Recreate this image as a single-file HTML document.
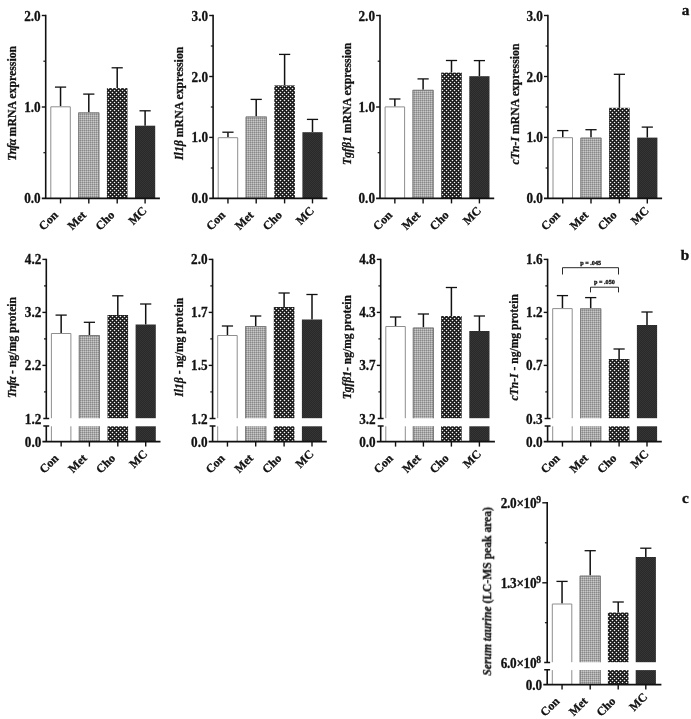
<!DOCTYPE html>
<html><head><meta charset="utf-8"><title>Figure</title>
<style>
html,body{margin:0;padding:0;background:#fff;}
body{width:691px;height:719px;overflow:hidden;font-family:"Liberation Serif",serif;}
svg{display:block;will-change:transform;}
</style></head><body>
<svg width="691" height="719" viewBox="0 0 691 719">
<defs>
<pattern id="pMet" width="2" height="2" patternUnits="userSpaceOnUse">
<rect width="2" height="2" fill="#a9a9a9"/><rect width="1" height="1" fill="#888888"/><rect x="1" y="1" width="1" height="1" fill="#c8c8c8"/>
</pattern>
<pattern id="pCho" width="4" height="4" patternUnits="userSpaceOnUse">
<rect width="4" height="4" fill="#141414"/><circle cx="0.5" cy="0.5" r="0.8" fill="#f4f4f4"/><circle cx="4.5" cy="0.5" r="0.8" fill="#f4f4f4"/><circle cx="0.5" cy="4.5" r="0.8" fill="#f4f4f4"/><circle cx="4.5" cy="4.5" r="0.8" fill="#f4f4f4"/><circle cx="2.5" cy="2.5" r="0.8" fill="#f4f4f4"/>
</pattern>
<pattern id="pMC" width="2" height="2" patternUnits="userSpaceOnUse">
<rect width="2" height="2" fill="#292929"/><rect width="1" height="1" fill="#353535"/><rect x="1" y="1" width="1" height="1" fill="#353535"/>
</pattern>
<filter id="soft" x="0" y="0" width="691" height="719" filterUnits="userSpaceOnUse" color-interpolation-filters="sRGB"><feGaussianBlur stdDeviation="0.38"/></filter>
</defs>
<rect width="691" height="719" fill="#fff"/>
<g filter="url(#soft)">

<path d="M45.7 14.75V198.4" stroke="#111111" stroke-width="1.6" fill="none"/>
<path d="M60.55 106.3V87.1" stroke="#111111" stroke-width="1.5" fill="none"/><path d="M54.95 87.1H66.15" stroke="#111111" stroke-width="1.3" fill="none"/>
<path d="M50.80 198.40V106.80H70.30V198.40" fill="none" stroke="#8e8e8e" stroke-width="1"/>
<path d="M88.80 112.4V94.1" stroke="#111111" stroke-width="1.5" fill="none"/><path d="M83.20 94.1H94.40" stroke="#111111" stroke-width="1.3" fill="none"/>
<rect x="78.20" y="112.40" width="21.20" height="86.00" fill="url(#pMet)"/>
<path d="M78.70 198.40V112.90H98.90V198.40" fill="none" stroke="#7c7c7c" stroke-width="1"/>
<path d="M117.20 88.1V67.8" stroke="#111111" stroke-width="1.5" fill="none"/><path d="M111.60 67.8H122.80" stroke="#111111" stroke-width="1.3" fill="none"/>
<rect x="106.90" y="88.10" width="20.60" height="110.30" fill="url(#pCho)"/>
<path d="M145.10 125.7V110.8" stroke="#111111" stroke-width="1.5" fill="none"/><path d="M139.50 110.8H150.70" stroke="#111111" stroke-width="1.3" fill="none"/>
<rect x="135.00" y="125.70" width="20.20" height="72.70" fill="url(#pMC)"/>
<path d="M41.800000000000004 198.4H159.9" stroke="#111111" stroke-width="1.7" fill="none"/>
<path d="M60.55 198.4V203.4" stroke="#111111" stroke-width="1.4" fill="none"/>
<text x="58.65" y="215.80" font-family="Liberation Serif, serif" font-weight="bold" stroke="#111" stroke-width="0.28" font-size="12" fill="#111111" text-anchor="end" transform="rotate(-45 58.65 215.80)">Con</text>
<path d="M88.80 198.4V203.4" stroke="#111111" stroke-width="1.4" fill="none"/>
<text x="86.90" y="215.80" font-family="Liberation Serif, serif" font-weight="bold" stroke="#111" stroke-width="0.28" font-size="12" fill="#111111" text-anchor="end" transform="rotate(-45 86.90 215.80)">Met</text>
<path d="M117.20 198.4V203.4" stroke="#111111" stroke-width="1.4" fill="none"/>
<text x="115.30" y="215.80" font-family="Liberation Serif, serif" font-weight="bold" stroke="#111" stroke-width="0.28" font-size="12" fill="#111111" text-anchor="end" transform="rotate(-45 115.30 215.80)">Cho</text>
<path d="M145.10 198.4V203.4" stroke="#111111" stroke-width="1.4" fill="none"/>
<text x="147.50" y="211.40" font-family="Liberation Serif, serif" font-weight="bold" stroke="#111" stroke-width="0.28" font-size="12" fill="#111111" text-anchor="end" transform="rotate(-45 147.50 211.40)">MC</text>
<path d="M41.80 15.5H45.7" stroke="#111111" stroke-width="1.4" fill="none"/>
<text transform="translate(40.70 20.55) scale(1 1.06)" font-family="Liberation Serif, serif" font-weight="bold" stroke="#111" stroke-width="0.28" font-size="13.2" fill="#111111" text-anchor="end">2.0</text>
<path d="M41.80 107H45.7" stroke="#111111" stroke-width="1.4" fill="none"/>
<text transform="translate(40.70 112.05) scale(1 1.06)" font-family="Liberation Serif, serif" font-weight="bold" stroke="#111" stroke-width="0.28" font-size="13.2" fill="#111111" text-anchor="end">1.0</text>
<text transform="translate(40.70 203.45) scale(1 1.06)" font-family="Liberation Serif, serif" font-weight="bold" stroke="#111" stroke-width="0.28" font-size="13.2" fill="#111111" text-anchor="end">0.0</text>
<path d="M43.400000000000006 61.2H45.7" stroke="#111111" stroke-width="1.2" fill="none"/>
<path d="M43.400000000000006 152.7H45.7" stroke="#111111" stroke-width="1.2" fill="none"/>
<text x="15.900000000000002" y="103.3" font-family="Liberation Serif, serif" font-weight="bold" stroke="#111" stroke-width="0.28" font-size="11.8" fill="#111111" text-anchor="middle" transform="rotate(-90 15.900000000000002 103.3)"><tspan font-style="italic" letter-spacing="-0.7">Tnfα</tspan> mRNA expression</text>
<path d="M213.1 14.75V198.4" stroke="#111111" stroke-width="1.6" fill="none"/>
<path d="M227.95 137.2V132.2" stroke="#111111" stroke-width="1.5" fill="none"/><path d="M222.35 132.2H233.55" stroke="#111111" stroke-width="1.3" fill="none"/>
<path d="M218.20 198.40V137.70H237.70V198.40" fill="none" stroke="#8e8e8e" stroke-width="1"/>
<path d="M256.20 116.5V99.4" stroke="#111111" stroke-width="1.5" fill="none"/><path d="M250.60 99.4H261.80" stroke="#111111" stroke-width="1.3" fill="none"/>
<rect x="245.60" y="116.50" width="21.20" height="81.90" fill="url(#pMet)"/>
<path d="M246.10 198.40V117.00H266.30V198.40" fill="none" stroke="#7c7c7c" stroke-width="1"/>
<path d="M284.60 85.4V54.4" stroke="#111111" stroke-width="1.5" fill="none"/><path d="M279.00 54.4H290.20" stroke="#111111" stroke-width="1.3" fill="none"/>
<rect x="274.30" y="85.40" width="20.60" height="113.00" fill="url(#pCho)"/>
<path d="M312.50 132.2V119.4" stroke="#111111" stroke-width="1.5" fill="none"/><path d="M306.90 119.4H318.10" stroke="#111111" stroke-width="1.3" fill="none"/>
<rect x="302.40" y="132.20" width="20.20" height="66.20" fill="url(#pMC)"/>
<path d="M209.2 198.4H327.3" stroke="#111111" stroke-width="1.7" fill="none"/>
<path d="M227.95 198.4V203.4" stroke="#111111" stroke-width="1.4" fill="none"/>
<text x="226.05" y="215.80" font-family="Liberation Serif, serif" font-weight="bold" stroke="#111" stroke-width="0.28" font-size="12" fill="#111111" text-anchor="end" transform="rotate(-45 226.05 215.80)">Con</text>
<path d="M256.20 198.4V203.4" stroke="#111111" stroke-width="1.4" fill="none"/>
<text x="254.30" y="215.80" font-family="Liberation Serif, serif" font-weight="bold" stroke="#111" stroke-width="0.28" font-size="12" fill="#111111" text-anchor="end" transform="rotate(-45 254.30 215.80)">Met</text>
<path d="M284.60 198.4V203.4" stroke="#111111" stroke-width="1.4" fill="none"/>
<text x="282.70" y="215.80" font-family="Liberation Serif, serif" font-weight="bold" stroke="#111" stroke-width="0.28" font-size="12" fill="#111111" text-anchor="end" transform="rotate(-45 282.70 215.80)">Cho</text>
<path d="M312.50 198.4V203.4" stroke="#111111" stroke-width="1.4" fill="none"/>
<text x="314.90" y="211.40" font-family="Liberation Serif, serif" font-weight="bold" stroke="#111" stroke-width="0.28" font-size="12" fill="#111111" text-anchor="end" transform="rotate(-45 314.90 211.40)">MC</text>
<path d="M209.20 15.5H213.1" stroke="#111111" stroke-width="1.4" fill="none"/>
<text transform="translate(208.10 20.55) scale(1 1.06)" font-family="Liberation Serif, serif" font-weight="bold" stroke="#111" stroke-width="0.28" font-size="13.2" fill="#111111" text-anchor="end">3.0</text>
<path d="M209.20 76.5H213.1" stroke="#111111" stroke-width="1.4" fill="none"/>
<text transform="translate(208.10 81.55) scale(1 1.06)" font-family="Liberation Serif, serif" font-weight="bold" stroke="#111" stroke-width="0.28" font-size="13.2" fill="#111111" text-anchor="end">2.0</text>
<path d="M209.20 137.4H213.1" stroke="#111111" stroke-width="1.4" fill="none"/>
<text transform="translate(208.10 142.45) scale(1 1.06)" font-family="Liberation Serif, serif" font-weight="bold" stroke="#111" stroke-width="0.28" font-size="13.2" fill="#111111" text-anchor="end">1.0</text>
<text transform="translate(208.10 203.45) scale(1 1.06)" font-family="Liberation Serif, serif" font-weight="bold" stroke="#111" stroke-width="0.28" font-size="13.2" fill="#111111" text-anchor="end">0.0</text>
<path d="M210.79999999999998 46H213.1" stroke="#111111" stroke-width="1.2" fill="none"/>
<path d="M210.79999999999998 107H213.1" stroke="#111111" stroke-width="1.2" fill="none"/>
<path d="M210.79999999999998 168H213.1" stroke="#111111" stroke-width="1.2" fill="none"/>
<text x="183.29999999999998" y="103.3" font-family="Liberation Serif, serif" font-weight="bold" stroke="#111" stroke-width="0.28" font-size="11.8" fill="#111111" text-anchor="middle" transform="rotate(-90 183.29999999999998 103.3)"><tspan font-style="italic">Il1β</tspan> mRNA expression</text>
<path d="M380.0 14.75V198.4" stroke="#111111" stroke-width="1.6" fill="none"/>
<path d="M394.85 106.4V99" stroke="#111111" stroke-width="1.5" fill="none"/><path d="M389.25 99H400.45" stroke="#111111" stroke-width="1.3" fill="none"/>
<path d="M385.10 198.40V106.90H404.60V198.40" fill="none" stroke="#8e8e8e" stroke-width="1"/>
<path d="M423.10 89.8V78.9" stroke="#111111" stroke-width="1.5" fill="none"/><path d="M417.50 78.9H428.70" stroke="#111111" stroke-width="1.3" fill="none"/>
<rect x="412.50" y="89.80" width="21.20" height="108.60" fill="url(#pMet)"/>
<path d="M413.00 198.40V90.30H433.20V198.40" fill="none" stroke="#7c7c7c" stroke-width="1"/>
<path d="M451.50 72.6V60.5" stroke="#111111" stroke-width="1.5" fill="none"/><path d="M445.90 60.5H457.10" stroke="#111111" stroke-width="1.3" fill="none"/>
<rect x="441.20" y="72.60" width="20.60" height="125.80" fill="url(#pCho)"/>
<path d="M479.40 76.2V60.6" stroke="#111111" stroke-width="1.5" fill="none"/><path d="M473.80 60.6H485.00" stroke="#111111" stroke-width="1.3" fill="none"/>
<rect x="469.30" y="76.20" width="20.20" height="122.20" fill="url(#pMC)"/>
<path d="M376.1 198.4H494.2" stroke="#111111" stroke-width="1.7" fill="none"/>
<path d="M394.85 198.4V203.4" stroke="#111111" stroke-width="1.4" fill="none"/>
<text x="392.95" y="215.80" font-family="Liberation Serif, serif" font-weight="bold" stroke="#111" stroke-width="0.28" font-size="12" fill="#111111" text-anchor="end" transform="rotate(-45 392.95 215.80)">Con</text>
<path d="M423.10 198.4V203.4" stroke="#111111" stroke-width="1.4" fill="none"/>
<text x="421.20" y="215.80" font-family="Liberation Serif, serif" font-weight="bold" stroke="#111" stroke-width="0.28" font-size="12" fill="#111111" text-anchor="end" transform="rotate(-45 421.20 215.80)">Met</text>
<path d="M451.50 198.4V203.4" stroke="#111111" stroke-width="1.4" fill="none"/>
<text x="449.60" y="215.80" font-family="Liberation Serif, serif" font-weight="bold" stroke="#111" stroke-width="0.28" font-size="12" fill="#111111" text-anchor="end" transform="rotate(-45 449.60 215.80)">Cho</text>
<path d="M479.40 198.4V203.4" stroke="#111111" stroke-width="1.4" fill="none"/>
<text x="481.80" y="211.40" font-family="Liberation Serif, serif" font-weight="bold" stroke="#111" stroke-width="0.28" font-size="12" fill="#111111" text-anchor="end" transform="rotate(-45 481.80 211.40)">MC</text>
<path d="M376.10 15.5H380.0" stroke="#111111" stroke-width="1.4" fill="none"/>
<text transform="translate(375.00 20.55) scale(1 1.06)" font-family="Liberation Serif, serif" font-weight="bold" stroke="#111" stroke-width="0.28" font-size="13.2" fill="#111111" text-anchor="end">2.0</text>
<path d="M376.10 107H380.0" stroke="#111111" stroke-width="1.4" fill="none"/>
<text transform="translate(375.00 112.05) scale(1 1.06)" font-family="Liberation Serif, serif" font-weight="bold" stroke="#111" stroke-width="0.28" font-size="13.2" fill="#111111" text-anchor="end">1.0</text>
<text transform="translate(375.00 203.45) scale(1 1.06)" font-family="Liberation Serif, serif" font-weight="bold" stroke="#111" stroke-width="0.28" font-size="13.2" fill="#111111" text-anchor="end">0.0</text>
<path d="M377.7 61.2H380.0" stroke="#111111" stroke-width="1.2" fill="none"/>
<path d="M377.7 152.7H380.0" stroke="#111111" stroke-width="1.2" fill="none"/>
<text x="350.7" y="103.8" font-family="Liberation Serif, serif" font-weight="bold" stroke="#111" stroke-width="0.28" font-size="11.8" fill="#111111" text-anchor="middle" transform="rotate(-90 350.7 103.8)"><tspan font-style="italic">Tgfβ1</tspan> mRNA expression</text>
<path d="M547.9 14.75V198.4" stroke="#111111" stroke-width="1.6" fill="none"/>
<path d="M562.75 137.2V130.6" stroke="#111111" stroke-width="1.5" fill="none"/><path d="M557.15 130.6H568.35" stroke="#111111" stroke-width="1.3" fill="none"/>
<path d="M553.00 198.40V137.70H572.50V198.40" fill="none" stroke="#8e8e8e" stroke-width="1"/>
<path d="M591.00 137.6V129.7" stroke="#111111" stroke-width="1.5" fill="none"/><path d="M585.40 129.7H596.60" stroke="#111111" stroke-width="1.3" fill="none"/>
<rect x="580.40" y="137.60" width="21.20" height="60.80" fill="url(#pMet)"/>
<path d="M580.90 198.40V138.10H601.10V198.40" fill="none" stroke="#7c7c7c" stroke-width="1"/>
<path d="M619.40 107.8V74.3" stroke="#111111" stroke-width="1.5" fill="none"/><path d="M613.80 74.3H625.00" stroke="#111111" stroke-width="1.3" fill="none"/>
<rect x="609.10" y="107.80" width="20.60" height="90.60" fill="url(#pCho)"/>
<path d="M647.30 137.6V127.1" stroke="#111111" stroke-width="1.5" fill="none"/><path d="M641.70 127.1H652.90" stroke="#111111" stroke-width="1.3" fill="none"/>
<rect x="637.20" y="137.60" width="20.20" height="60.80" fill="url(#pMC)"/>
<path d="M544.0 198.4H662.1" stroke="#111111" stroke-width="1.7" fill="none"/>
<path d="M562.75 198.4V203.4" stroke="#111111" stroke-width="1.4" fill="none"/>
<text x="560.85" y="215.80" font-family="Liberation Serif, serif" font-weight="bold" stroke="#111" stroke-width="0.28" font-size="12" fill="#111111" text-anchor="end" transform="rotate(-45 560.85 215.80)">Con</text>
<path d="M591.00 198.4V203.4" stroke="#111111" stroke-width="1.4" fill="none"/>
<text x="589.10" y="215.80" font-family="Liberation Serif, serif" font-weight="bold" stroke="#111" stroke-width="0.28" font-size="12" fill="#111111" text-anchor="end" transform="rotate(-45 589.10 215.80)">Met</text>
<path d="M619.40 198.4V203.4" stroke="#111111" stroke-width="1.4" fill="none"/>
<text x="617.50" y="215.80" font-family="Liberation Serif, serif" font-weight="bold" stroke="#111" stroke-width="0.28" font-size="12" fill="#111111" text-anchor="end" transform="rotate(-45 617.50 215.80)">Cho</text>
<path d="M647.30 198.4V203.4" stroke="#111111" stroke-width="1.4" fill="none"/>
<text x="649.70" y="211.40" font-family="Liberation Serif, serif" font-weight="bold" stroke="#111" stroke-width="0.28" font-size="12" fill="#111111" text-anchor="end" transform="rotate(-45 649.70 211.40)">MC</text>
<path d="M544.00 15.5H547.9" stroke="#111111" stroke-width="1.4" fill="none"/>
<text transform="translate(542.90 20.55) scale(1 1.06)" font-family="Liberation Serif, serif" font-weight="bold" stroke="#111" stroke-width="0.28" font-size="13.2" fill="#111111" text-anchor="end">3.0</text>
<path d="M544.00 76.5H547.9" stroke="#111111" stroke-width="1.4" fill="none"/>
<text transform="translate(542.90 81.55) scale(1 1.06)" font-family="Liberation Serif, serif" font-weight="bold" stroke="#111" stroke-width="0.28" font-size="13.2" fill="#111111" text-anchor="end">2.0</text>
<path d="M544.00 137.4H547.9" stroke="#111111" stroke-width="1.4" fill="none"/>
<text transform="translate(542.90 142.45) scale(1 1.06)" font-family="Liberation Serif, serif" font-weight="bold" stroke="#111" stroke-width="0.28" font-size="13.2" fill="#111111" text-anchor="end">1.0</text>
<text transform="translate(542.90 203.45) scale(1 1.06)" font-family="Liberation Serif, serif" font-weight="bold" stroke="#111" stroke-width="0.28" font-size="13.2" fill="#111111" text-anchor="end">0.0</text>
<path d="M545.6 46H547.9" stroke="#111111" stroke-width="1.2" fill="none"/>
<path d="M545.6 107H547.9" stroke="#111111" stroke-width="1.2" fill="none"/>
<path d="M545.6 168H547.9" stroke="#111111" stroke-width="1.2" fill="none"/>
<text x="518.6" y="104" font-family="Liberation Serif, serif" font-weight="bold" stroke="#111" stroke-width="0.28" font-size="11.8" fill="#111111" text-anchor="middle" transform="rotate(-90 518.6 104)"><tspan font-style="italic">cTn-I</tspan> mRNA expression</text>
<path d="M46.3 258.65V418.5M46.3 426.0V441.6" stroke="#111111" stroke-width="1.6" fill="none"/>
<path d="M43.30 418.5H49.20M43.30 426.0H49.20" stroke="#111111" stroke-width="1.4" fill="none"/>
<path d="M61.15 333V315.1" stroke="#111111" stroke-width="1.5" fill="none"/><path d="M55.55 315.1H66.75" stroke="#111111" stroke-width="1.3" fill="none"/>
<path d="M51.40 418.20V333.50H70.90V418.20" fill="none" stroke="#8e8e8e" stroke-width="1"/>
<path d="M51.40 426.30V441.60M70.90 426.30V441.60" fill="none" stroke="#8e8e8e" stroke-width="1"/>
<path d="M89.40 335V322.3" stroke="#111111" stroke-width="1.5" fill="none"/><path d="M83.80 322.3H95.00" stroke="#111111" stroke-width="1.3" fill="none"/>
<rect x="78.80" y="335.00" width="21.20" height="83.20" fill="url(#pMet)"/>
<path d="M79.30 418.20V335.50H99.50V418.20" fill="none" stroke="#7c7c7c" stroke-width="1"/>
<rect x="78.80" y="426.30" width="21.20" height="15.30" fill="url(#pMet)"/>
<path d="M79.30 426.30V441.60M99.50 426.30V441.60" fill="none" stroke="#7c7c7c" stroke-width="1"/>
<path d="M117.80 315V295.8" stroke="#111111" stroke-width="1.5" fill="none"/><path d="M112.20 295.8H123.40" stroke="#111111" stroke-width="1.3" fill="none"/>
<rect x="107.50" y="315.00" width="20.60" height="103.20" fill="url(#pCho)"/>
<rect x="107.50" y="426.30" width="20.60" height="15.30" fill="url(#pCho)"/>
<path d="M145.70 324.5V304" stroke="#111111" stroke-width="1.5" fill="none"/><path d="M140.10 304H151.30" stroke="#111111" stroke-width="1.3" fill="none"/>
<rect x="135.60" y="324.50" width="20.20" height="93.70" fill="url(#pMC)"/>
<rect x="135.60" y="426.30" width="20.20" height="15.30" fill="url(#pMC)"/>
<path d="M42.4 441.6H160.5" stroke="#111111" stroke-width="1.7" fill="none"/>
<path d="M61.15 441.6V446.6" stroke="#111111" stroke-width="1.4" fill="none"/>
<text x="59.25" y="459.00" font-family="Liberation Serif, serif" font-weight="bold" stroke="#111" stroke-width="0.28" font-size="12" fill="#111111" text-anchor="end" transform="rotate(-45 59.25 459.00)">Con</text>
<path d="M89.40 441.6V446.6" stroke="#111111" stroke-width="1.4" fill="none"/>
<text x="87.50" y="459.00" font-family="Liberation Serif, serif" font-weight="bold" stroke="#111" stroke-width="0.28" font-size="12" fill="#111111" text-anchor="end" transform="rotate(-45 87.50 459.00)">Met</text>
<path d="M117.80 441.6V446.6" stroke="#111111" stroke-width="1.4" fill="none"/>
<text x="115.90" y="459.00" font-family="Liberation Serif, serif" font-weight="bold" stroke="#111" stroke-width="0.28" font-size="12" fill="#111111" text-anchor="end" transform="rotate(-45 115.90 459.00)">Cho</text>
<path d="M145.70 441.6V446.6" stroke="#111111" stroke-width="1.4" fill="none"/>
<text x="148.10" y="454.60" font-family="Liberation Serif, serif" font-weight="bold" stroke="#111" stroke-width="0.28" font-size="12" fill="#111111" text-anchor="end" transform="rotate(-45 148.10 454.60)">MC</text>
<path d="M42.40 259.4H46.3" stroke="#111111" stroke-width="1.4" fill="none"/>
<text transform="translate(41.30 264.45) scale(1 1.06)" font-family="Liberation Serif, serif" font-weight="bold" stroke="#111" stroke-width="0.28" font-size="13.2" fill="#111111" text-anchor="end">4.2</text>
<path d="M42.40 312.4H46.3" stroke="#111111" stroke-width="1.4" fill="none"/>
<text transform="translate(41.30 317.45) scale(1 1.06)" font-family="Liberation Serif, serif" font-weight="bold" stroke="#111" stroke-width="0.28" font-size="13.2" fill="#111111" text-anchor="end">3.2</text>
<path d="M42.40 365.4H46.3" stroke="#111111" stroke-width="1.4" fill="none"/>
<text transform="translate(41.30 370.45) scale(1 1.06)" font-family="Liberation Serif, serif" font-weight="bold" stroke="#111" stroke-width="0.28" font-size="13.2" fill="#111111" text-anchor="end">2.2</text>
<text transform="translate(41.30 423.55) scale(1 1.06)" font-family="Liberation Serif, serif" font-weight="bold" stroke="#111" stroke-width="0.28" font-size="13.2" fill="#111111" text-anchor="end">1.2</text>
<text transform="translate(41.30 446.65) scale(1 1.06)" font-family="Liberation Serif, serif" font-weight="bold" stroke="#111" stroke-width="0.28" font-size="13.2" fill="#111111" text-anchor="end">0.0</text>
<path d="M44.0 285.9H46.3" stroke="#111111" stroke-width="1.2" fill="none"/>
<path d="M44.0 338.9H46.3" stroke="#111111" stroke-width="1.2" fill="none"/>
<path d="M44.0 391.9H46.3" stroke="#111111" stroke-width="1.2" fill="none"/>
<text x="15.7" y="347.5" font-family="Liberation Serif, serif" font-weight="bold" stroke="#111" stroke-width="0.28" font-size="11.7" fill="#111111" text-anchor="middle" transform="rotate(-90 15.7 347.5)"><tspan font-style="italic" letter-spacing="-0.7">Tnfα</tspan> - ng/mg protein</text>
<path d="M212.6 258.65V418.5M212.6 426.0V441.6" stroke="#111111" stroke-width="1.6" fill="none"/>
<path d="M209.60 418.5H215.50M209.60 426.0H215.50" stroke="#111111" stroke-width="1.4" fill="none"/>
<path d="M227.45 335V326" stroke="#111111" stroke-width="1.5" fill="none"/><path d="M221.85 326H233.05" stroke="#111111" stroke-width="1.3" fill="none"/>
<path d="M217.70 418.20V335.50H237.20V418.20" fill="none" stroke="#8e8e8e" stroke-width="1"/>
<path d="M217.70 426.30V441.60M237.20 426.30V441.60" fill="none" stroke="#8e8e8e" stroke-width="1"/>
<path d="M255.70 326V316" stroke="#111111" stroke-width="1.5" fill="none"/><path d="M250.10 316H261.30" stroke="#111111" stroke-width="1.3" fill="none"/>
<rect x="245.10" y="326.00" width="21.20" height="92.20" fill="url(#pMet)"/>
<path d="M245.60 418.20V326.50H265.80V418.20" fill="none" stroke="#7c7c7c" stroke-width="1"/>
<rect x="245.10" y="426.30" width="21.20" height="15.30" fill="url(#pMet)"/>
<path d="M245.60 426.30V441.60M265.80 426.30V441.60" fill="none" stroke="#7c7c7c" stroke-width="1"/>
<path d="M284.10 307V293" stroke="#111111" stroke-width="1.5" fill="none"/><path d="M278.50 293H289.70" stroke="#111111" stroke-width="1.3" fill="none"/>
<rect x="273.80" y="307.00" width="20.60" height="111.20" fill="url(#pCho)"/>
<rect x="273.80" y="426.30" width="20.60" height="15.30" fill="url(#pCho)"/>
<path d="M312.00 319.5V294.5" stroke="#111111" stroke-width="1.5" fill="none"/><path d="M306.40 294.5H317.60" stroke="#111111" stroke-width="1.3" fill="none"/>
<rect x="301.90" y="319.50" width="20.20" height="98.70" fill="url(#pMC)"/>
<rect x="301.90" y="426.30" width="20.20" height="15.30" fill="url(#pMC)"/>
<path d="M208.7 441.6H326.8" stroke="#111111" stroke-width="1.7" fill="none"/>
<path d="M227.45 441.6V446.6" stroke="#111111" stroke-width="1.4" fill="none"/>
<text x="225.55" y="459.00" font-family="Liberation Serif, serif" font-weight="bold" stroke="#111" stroke-width="0.28" font-size="12" fill="#111111" text-anchor="end" transform="rotate(-45 225.55 459.00)">Con</text>
<path d="M255.70 441.6V446.6" stroke="#111111" stroke-width="1.4" fill="none"/>
<text x="253.80" y="459.00" font-family="Liberation Serif, serif" font-weight="bold" stroke="#111" stroke-width="0.28" font-size="12" fill="#111111" text-anchor="end" transform="rotate(-45 253.80 459.00)">Met</text>
<path d="M284.10 441.6V446.6" stroke="#111111" stroke-width="1.4" fill="none"/>
<text x="282.20" y="459.00" font-family="Liberation Serif, serif" font-weight="bold" stroke="#111" stroke-width="0.28" font-size="12" fill="#111111" text-anchor="end" transform="rotate(-45 282.20 459.00)">Cho</text>
<path d="M312.00 441.6V446.6" stroke="#111111" stroke-width="1.4" fill="none"/>
<text x="314.40" y="454.60" font-family="Liberation Serif, serif" font-weight="bold" stroke="#111" stroke-width="0.28" font-size="12" fill="#111111" text-anchor="end" transform="rotate(-45 314.40 454.60)">MC</text>
<path d="M208.70 259.4H212.6" stroke="#111111" stroke-width="1.4" fill="none"/>
<text transform="translate(207.60 264.45) scale(1 1.06)" font-family="Liberation Serif, serif" font-weight="bold" stroke="#111" stroke-width="0.28" font-size="13.2" fill="#111111" text-anchor="end">2.0</text>
<path d="M208.70 312.4H212.6" stroke="#111111" stroke-width="1.4" fill="none"/>
<text transform="translate(207.60 317.45) scale(1 1.06)" font-family="Liberation Serif, serif" font-weight="bold" stroke="#111" stroke-width="0.28" font-size="13.2" fill="#111111" text-anchor="end">1.7</text>
<path d="M208.70 365.4H212.6" stroke="#111111" stroke-width="1.4" fill="none"/>
<text transform="translate(207.60 370.45) scale(1 1.06)" font-family="Liberation Serif, serif" font-weight="bold" stroke="#111" stroke-width="0.28" font-size="13.2" fill="#111111" text-anchor="end">1.5</text>
<text transform="translate(207.60 423.55) scale(1 1.06)" font-family="Liberation Serif, serif" font-weight="bold" stroke="#111" stroke-width="0.28" font-size="13.2" fill="#111111" text-anchor="end">1.2</text>
<text transform="translate(207.60 446.65) scale(1 1.06)" font-family="Liberation Serif, serif" font-weight="bold" stroke="#111" stroke-width="0.28" font-size="13.2" fill="#111111" text-anchor="end">0.0</text>
<path d="M210.29999999999998 285.9H212.6" stroke="#111111" stroke-width="1.2" fill="none"/>
<path d="M210.29999999999998 338.9H212.6" stroke="#111111" stroke-width="1.2" fill="none"/>
<path d="M210.29999999999998 391.9H212.6" stroke="#111111" stroke-width="1.2" fill="none"/>
<text x="183.4" y="347.3" font-family="Liberation Serif, serif" font-weight="bold" stroke="#111" stroke-width="0.28" font-size="11.6" fill="#111111" text-anchor="middle" transform="rotate(-90 183.4 347.3)"><tspan font-style="italic">Il1β</tspan> - ng/mg protein</text>
<path d="M380.7 258.65V418.5M380.7 426.0V441.6" stroke="#111111" stroke-width="1.6" fill="none"/>
<path d="M377.70 418.5H383.60M377.70 426.0H383.60" stroke="#111111" stroke-width="1.4" fill="none"/>
<path d="M395.55 326V317" stroke="#111111" stroke-width="1.5" fill="none"/><path d="M389.95 317H401.15" stroke="#111111" stroke-width="1.3" fill="none"/>
<path d="M385.80 418.20V326.50H405.30V418.20" fill="none" stroke="#8e8e8e" stroke-width="1"/>
<path d="M385.80 426.30V441.60M405.30 426.30V441.60" fill="none" stroke="#8e8e8e" stroke-width="1"/>
<path d="M423.40 327.5V314" stroke="#111111" stroke-width="1.5" fill="none"/><path d="M417.80 314H429.00" stroke="#111111" stroke-width="1.3" fill="none"/>
<rect x="412.80" y="327.50" width="21.20" height="90.70" fill="url(#pMet)"/>
<path d="M413.30 418.20V328.00H433.50V418.20" fill="none" stroke="#7c7c7c" stroke-width="1"/>
<rect x="412.80" y="426.30" width="21.20" height="15.30" fill="url(#pMet)"/>
<path d="M413.30 426.30V441.60M433.50 426.30V441.60" fill="none" stroke="#7c7c7c" stroke-width="1"/>
<path d="M451.40 316V287.5" stroke="#111111" stroke-width="1.5" fill="none"/><path d="M445.80 287.5H457.00" stroke="#111111" stroke-width="1.3" fill="none"/>
<rect x="441.10" y="316.00" width="20.60" height="102.20" fill="url(#pCho)"/>
<rect x="441.10" y="426.30" width="20.60" height="15.30" fill="url(#pCho)"/>
<path d="M479.40 331V316" stroke="#111111" stroke-width="1.5" fill="none"/><path d="M473.80 316H485.00" stroke="#111111" stroke-width="1.3" fill="none"/>
<rect x="469.30" y="331.00" width="20.20" height="87.20" fill="url(#pMC)"/>
<rect x="469.30" y="426.30" width="20.20" height="15.30" fill="url(#pMC)"/>
<path d="M376.8 441.6H494.9" stroke="#111111" stroke-width="1.7" fill="none"/>
<path d="M395.55 441.6V446.6" stroke="#111111" stroke-width="1.4" fill="none"/>
<text x="393.65" y="459.00" font-family="Liberation Serif, serif" font-weight="bold" stroke="#111" stroke-width="0.28" font-size="12" fill="#111111" text-anchor="end" transform="rotate(-45 393.65 459.00)">Con</text>
<path d="M423.40 441.6V446.6" stroke="#111111" stroke-width="1.4" fill="none"/>
<text x="421.50" y="459.00" font-family="Liberation Serif, serif" font-weight="bold" stroke="#111" stroke-width="0.28" font-size="12" fill="#111111" text-anchor="end" transform="rotate(-45 421.50 459.00)">Met</text>
<path d="M451.40 441.6V446.6" stroke="#111111" stroke-width="1.4" fill="none"/>
<text x="449.50" y="459.00" font-family="Liberation Serif, serif" font-weight="bold" stroke="#111" stroke-width="0.28" font-size="12" fill="#111111" text-anchor="end" transform="rotate(-45 449.50 459.00)">Cho</text>
<path d="M479.40 441.6V446.6" stroke="#111111" stroke-width="1.4" fill="none"/>
<text x="481.80" y="454.60" font-family="Liberation Serif, serif" font-weight="bold" stroke="#111" stroke-width="0.28" font-size="12" fill="#111111" text-anchor="end" transform="rotate(-45 481.80 454.60)">MC</text>
<path d="M376.80 259.4H380.7" stroke="#111111" stroke-width="1.4" fill="none"/>
<text transform="translate(375.70 264.45) scale(1 1.06)" font-family="Liberation Serif, serif" font-weight="bold" stroke="#111" stroke-width="0.28" font-size="13.2" fill="#111111" text-anchor="end">4.8</text>
<path d="M376.80 312.4H380.7" stroke="#111111" stroke-width="1.4" fill="none"/>
<text transform="translate(375.70 317.45) scale(1 1.06)" font-family="Liberation Serif, serif" font-weight="bold" stroke="#111" stroke-width="0.28" font-size="13.2" fill="#111111" text-anchor="end">4.3</text>
<path d="M376.80 365.4H380.7" stroke="#111111" stroke-width="1.4" fill="none"/>
<text transform="translate(375.70 370.45) scale(1 1.06)" font-family="Liberation Serif, serif" font-weight="bold" stroke="#111" stroke-width="0.28" font-size="13.2" fill="#111111" text-anchor="end">3.7</text>
<text transform="translate(375.70 423.55) scale(1 1.06)" font-family="Liberation Serif, serif" font-weight="bold" stroke="#111" stroke-width="0.28" font-size="13.2" fill="#111111" text-anchor="end">3.2</text>
<text transform="translate(375.70 446.65) scale(1 1.06)" font-family="Liberation Serif, serif" font-weight="bold" stroke="#111" stroke-width="0.28" font-size="13.2" fill="#111111" text-anchor="end">0.0</text>
<path d="M378.4 285.9H380.7" stroke="#111111" stroke-width="1.2" fill="none"/>
<path d="M378.4 338.9H380.7" stroke="#111111" stroke-width="1.2" fill="none"/>
<path d="M378.4 391.9H380.7" stroke="#111111" stroke-width="1.2" fill="none"/>
<text x="350.6" y="347.1" font-family="Liberation Serif, serif" font-weight="bold" stroke="#111" stroke-width="0.28" font-size="11.5" fill="#111111" text-anchor="middle" transform="rotate(-90 350.6 347.1)"><tspan font-style="italic">Tgfβ1</tspan>- ng/mg protein</text>
<path d="M547.6 258.65V418.5M547.6 426.0V441.6" stroke="#111111" stroke-width="1.6" fill="none"/>
<path d="M544.60 418.5H550.50M544.60 426.0H550.50" stroke="#111111" stroke-width="1.4" fill="none"/>
<path d="M562.45 308.1V295.6" stroke="#111111" stroke-width="1.5" fill="none"/><path d="M556.85 295.6H568.05" stroke="#111111" stroke-width="1.3" fill="none"/>
<path d="M552.70 418.20V308.60H572.20V418.20" fill="none" stroke="#8e8e8e" stroke-width="1"/>
<path d="M552.70 426.30V441.60M572.20 426.30V441.60" fill="none" stroke="#8e8e8e" stroke-width="1"/>
<path d="M590.70 308.3V297.6" stroke="#111111" stroke-width="1.5" fill="none"/><path d="M585.10 297.6H596.30" stroke="#111111" stroke-width="1.3" fill="none"/>
<rect x="580.10" y="308.30" width="21.20" height="109.90" fill="url(#pMet)"/>
<path d="M580.60 418.20V308.80H600.80V418.20" fill="none" stroke="#7c7c7c" stroke-width="1"/>
<rect x="580.10" y="426.30" width="21.20" height="15.30" fill="url(#pMet)"/>
<path d="M580.60 426.30V441.60M600.80 426.30V441.60" fill="none" stroke="#7c7c7c" stroke-width="1"/>
<path d="M619.10 359V349" stroke="#111111" stroke-width="1.5" fill="none"/><path d="M613.50 349H624.70" stroke="#111111" stroke-width="1.3" fill="none"/>
<rect x="608.80" y="359.00" width="20.60" height="59.20" fill="url(#pCho)"/>
<rect x="608.80" y="426.30" width="20.60" height="15.30" fill="url(#pCho)"/>
<path d="M647.00 325V312" stroke="#111111" stroke-width="1.5" fill="none"/><path d="M641.40 312H652.60" stroke="#111111" stroke-width="1.3" fill="none"/>
<rect x="636.90" y="325.00" width="20.20" height="93.20" fill="url(#pMC)"/>
<rect x="636.90" y="426.30" width="20.20" height="15.30" fill="url(#pMC)"/>
<path d="M543.7 441.6H661.8000000000001" stroke="#111111" stroke-width="1.7" fill="none"/>
<path d="M562.45 441.6V446.6" stroke="#111111" stroke-width="1.4" fill="none"/>
<text x="560.55" y="459.00" font-family="Liberation Serif, serif" font-weight="bold" stroke="#111" stroke-width="0.28" font-size="12" fill="#111111" text-anchor="end" transform="rotate(-45 560.55 459.00)">Con</text>
<path d="M590.70 441.6V446.6" stroke="#111111" stroke-width="1.4" fill="none"/>
<text x="588.80" y="459.00" font-family="Liberation Serif, serif" font-weight="bold" stroke="#111" stroke-width="0.28" font-size="12" fill="#111111" text-anchor="end" transform="rotate(-45 588.80 459.00)">Met</text>
<path d="M619.10 441.6V446.6" stroke="#111111" stroke-width="1.4" fill="none"/>
<text x="617.20" y="459.00" font-family="Liberation Serif, serif" font-weight="bold" stroke="#111" stroke-width="0.28" font-size="12" fill="#111111" text-anchor="end" transform="rotate(-45 617.20 459.00)">Cho</text>
<path d="M647.00 441.6V446.6" stroke="#111111" stroke-width="1.4" fill="none"/>
<text x="649.40" y="454.60" font-family="Liberation Serif, serif" font-weight="bold" stroke="#111" stroke-width="0.28" font-size="12" fill="#111111" text-anchor="end" transform="rotate(-45 649.40 454.60)">MC</text>
<path d="M543.70 259.4H547.6" stroke="#111111" stroke-width="1.4" fill="none"/>
<text transform="translate(542.60 264.45) scale(1 1.06)" font-family="Liberation Serif, serif" font-weight="bold" stroke="#111" stroke-width="0.28" font-size="13.2" fill="#111111" text-anchor="end">1.6</text>
<path d="M543.70 312.4H547.6" stroke="#111111" stroke-width="1.4" fill="none"/>
<text transform="translate(542.60 317.45) scale(1 1.06)" font-family="Liberation Serif, serif" font-weight="bold" stroke="#111" stroke-width="0.28" font-size="13.2" fill="#111111" text-anchor="end">1.2</text>
<path d="M543.70 365.4H547.6" stroke="#111111" stroke-width="1.4" fill="none"/>
<text transform="translate(542.60 370.45) scale(1 1.06)" font-family="Liberation Serif, serif" font-weight="bold" stroke="#111" stroke-width="0.28" font-size="13.2" fill="#111111" text-anchor="end">0.7</text>
<text transform="translate(542.60 423.55) scale(1 1.06)" font-family="Liberation Serif, serif" font-weight="bold" stroke="#111" stroke-width="0.28" font-size="13.2" fill="#111111" text-anchor="end">0.3</text>
<text transform="translate(542.60 446.65) scale(1 1.06)" font-family="Liberation Serif, serif" font-weight="bold" stroke="#111" stroke-width="0.28" font-size="13.2" fill="#111111" text-anchor="end">0.0</text>
<path d="M545.3000000000001 285.9H547.6" stroke="#111111" stroke-width="1.2" fill="none"/>
<path d="M545.3000000000001 338.9H547.6" stroke="#111111" stroke-width="1.2" fill="none"/>
<path d="M545.3000000000001 391.9H547.6" stroke="#111111" stroke-width="1.2" fill="none"/>
<text x="518.4" y="347.3" font-family="Liberation Serif, serif" font-weight="bold" stroke="#111" stroke-width="0.28" font-size="11.6" fill="#111111" text-anchor="middle" transform="rotate(-90 518.4 347.3)"><tspan font-style="italic">cTn-I</tspan> - ng/mg protein</text>
<path d="M562.5 274.5V267.7H618.5V274.5" stroke="#111111" stroke-width="0.9" fill="none"/>
<path d="M590.5 292.4V287.2H618.5V292.4" stroke="#111111" stroke-width="0.9" fill="none"/>
<text x="590.7" y="265" font-family="Liberation Serif, serif" font-weight="bold" stroke="#111" stroke-width="0.3" font-size="6.2" fill="#111111" text-anchor="middle">p = .045</text>
<text x="604.4" y="283.7" font-family="Liberation Serif, serif" font-weight="bold" stroke="#111" stroke-width="0.3" font-size="6.2" fill="#111111" text-anchor="middle">p = .050</text>
<path d="M547.2 502.05V662.5M547.2 669.8V684.6" stroke="#111111" stroke-width="1.6" fill="none"/>
<path d="M544.20 662.5H550.10M544.20 669.8H550.10" stroke="#111111" stroke-width="1.4" fill="none"/>
<path d="M562.05 603.5V581.4" stroke="#111111" stroke-width="1.5" fill="none"/><path d="M556.45 581.4H567.65" stroke="#111111" stroke-width="1.3" fill="none"/>
<path d="M552.30 662.20V604.00H571.80V662.20" fill="none" stroke="#8e8e8e" stroke-width="1"/>
<path d="M552.30 670.10V684.60M571.80 670.10V684.60" fill="none" stroke="#8e8e8e" stroke-width="1"/>
<path d="M590.20 575.6V550.7" stroke="#111111" stroke-width="1.5" fill="none"/><path d="M584.60 550.7H595.80" stroke="#111111" stroke-width="1.3" fill="none"/>
<rect x="579.60" y="575.60" width="21.20" height="86.60" fill="url(#pMet)"/>
<path d="M580.10 662.20V576.10H600.30V662.20" fill="none" stroke="#7c7c7c" stroke-width="1"/>
<rect x="579.60" y="670.10" width="21.20" height="14.50" fill="url(#pMet)"/>
<path d="M580.10 670.10V684.60M600.30 670.10V684.60" fill="none" stroke="#7c7c7c" stroke-width="1"/>
<path d="M618.20 612.5V602" stroke="#111111" stroke-width="1.5" fill="none"/><path d="M612.60 602H623.80" stroke="#111111" stroke-width="1.3" fill="none"/>
<rect x="607.90" y="612.50" width="20.60" height="49.70" fill="url(#pCho)"/>
<rect x="607.90" y="670.10" width="20.60" height="14.50" fill="url(#pCho)"/>
<path d="M645.80 557V548.2" stroke="#111111" stroke-width="1.5" fill="none"/><path d="M640.20 548.2H651.40" stroke="#111111" stroke-width="1.3" fill="none"/>
<rect x="635.70" y="557.00" width="20.20" height="105.20" fill="url(#pMC)"/>
<rect x="635.70" y="670.10" width="20.20" height="14.50" fill="url(#pMC)"/>
<path d="M543.3000000000001 684.6H661.4000000000001" stroke="#111111" stroke-width="1.7" fill="none"/>
<path d="M562.05 684.6V689.6" stroke="#111111" stroke-width="1.4" fill="none"/>
<text x="560.15" y="702.00" font-family="Liberation Serif, serif" font-weight="bold" stroke="#111" stroke-width="0.28" font-size="12" fill="#111111" text-anchor="end" transform="rotate(-45 560.15 702.00)">Con</text>
<path d="M590.20 684.6V689.6" stroke="#111111" stroke-width="1.4" fill="none"/>
<text x="588.30" y="702.00" font-family="Liberation Serif, serif" font-weight="bold" stroke="#111" stroke-width="0.28" font-size="12" fill="#111111" text-anchor="end" transform="rotate(-45 588.30 702.00)">Met</text>
<path d="M618.20 684.6V689.6" stroke="#111111" stroke-width="1.4" fill="none"/>
<text x="616.30" y="702.00" font-family="Liberation Serif, serif" font-weight="bold" stroke="#111" stroke-width="0.28" font-size="12" fill="#111111" text-anchor="end" transform="rotate(-45 616.30 702.00)">Cho</text>
<path d="M645.80 684.6V689.6" stroke="#111111" stroke-width="1.4" fill="none"/>
<text x="648.20" y="697.60" font-family="Liberation Serif, serif" font-weight="bold" stroke="#111" stroke-width="0.28" font-size="12" fill="#111111" text-anchor="end" transform="rotate(-45 648.20 697.60)">MC</text>
<path d="M542.30 502.8H547.2" stroke="#111111" stroke-width="1.4" fill="none"/>
<text transform="translate(540.70 507.85) scale(1 1.06)" font-family="Liberation Serif, serif" font-weight="bold" stroke="#111" stroke-width="0.28" font-size="13.2" fill="#111111" text-anchor="end" letter-spacing="-0.3">2.0×10<tspan dy="-4.6" font-size="9.6">9</tspan></text>
<path d="M542.30 582.8H547.2" stroke="#111111" stroke-width="1.4" fill="none"/>
<text transform="translate(540.70 587.85) scale(1 1.06)" font-family="Liberation Serif, serif" font-weight="bold" stroke="#111" stroke-width="0.28" font-size="13.2" fill="#111111" text-anchor="end" letter-spacing="-0.3">1.3×10<tspan dy="-4.6" font-size="9.6">9</tspan></text>
<text transform="translate(540.70 667.55) scale(1 1.06)" font-family="Liberation Serif, serif" font-weight="bold" stroke="#111" stroke-width="0.28" font-size="13.2" fill="#111111" text-anchor="end" letter-spacing="-0.3">6.0×10<tspan dy="-4.6" font-size="9.6">8</tspan></text>
<text transform="translate(542.20 689.65) scale(1 1.06)" font-family="Liberation Serif, serif" font-weight="bold" stroke="#111" stroke-width="0.28" font-size="13.2" fill="#111111" text-anchor="end">0.0</text>
<path d="M544.9000000000001 542.8H547.2" stroke="#111111" stroke-width="1.2" fill="none"/>
<path d="M544.9000000000001 622.7H547.2" stroke="#111111" stroke-width="1.2" fill="none"/>
<text x="491.40000000000003" y="591.3" font-family="Liberation Serif, serif" font-weight="bold" stroke="#111" stroke-width="0.28" font-size="11.6" fill="#111111" text-anchor="middle" transform="rotate(-90 491.40000000000003 591.3)"><tspan font-style="italic">Serum taurine</tspan> (LC-MS peak area)</text>
<text x="689.4" y="14.6" font-family="Liberation Serif, serif" font-weight="bold" stroke="#111" stroke-width="0.4" font-size="15.2" fill="#111111" text-anchor="end">a</text>
<text x="689.3" y="259.6" font-family="Liberation Serif, serif" font-weight="bold" stroke="#111" stroke-width="0.4" font-size="15.2" fill="#111111" text-anchor="end">b</text>
<text x="688.8" y="502.6" font-family="Liberation Serif, serif" font-weight="bold" stroke="#111" stroke-width="0.4" font-size="15.2" fill="#111111" text-anchor="end">c</text>
</g>
</svg></body></html>
